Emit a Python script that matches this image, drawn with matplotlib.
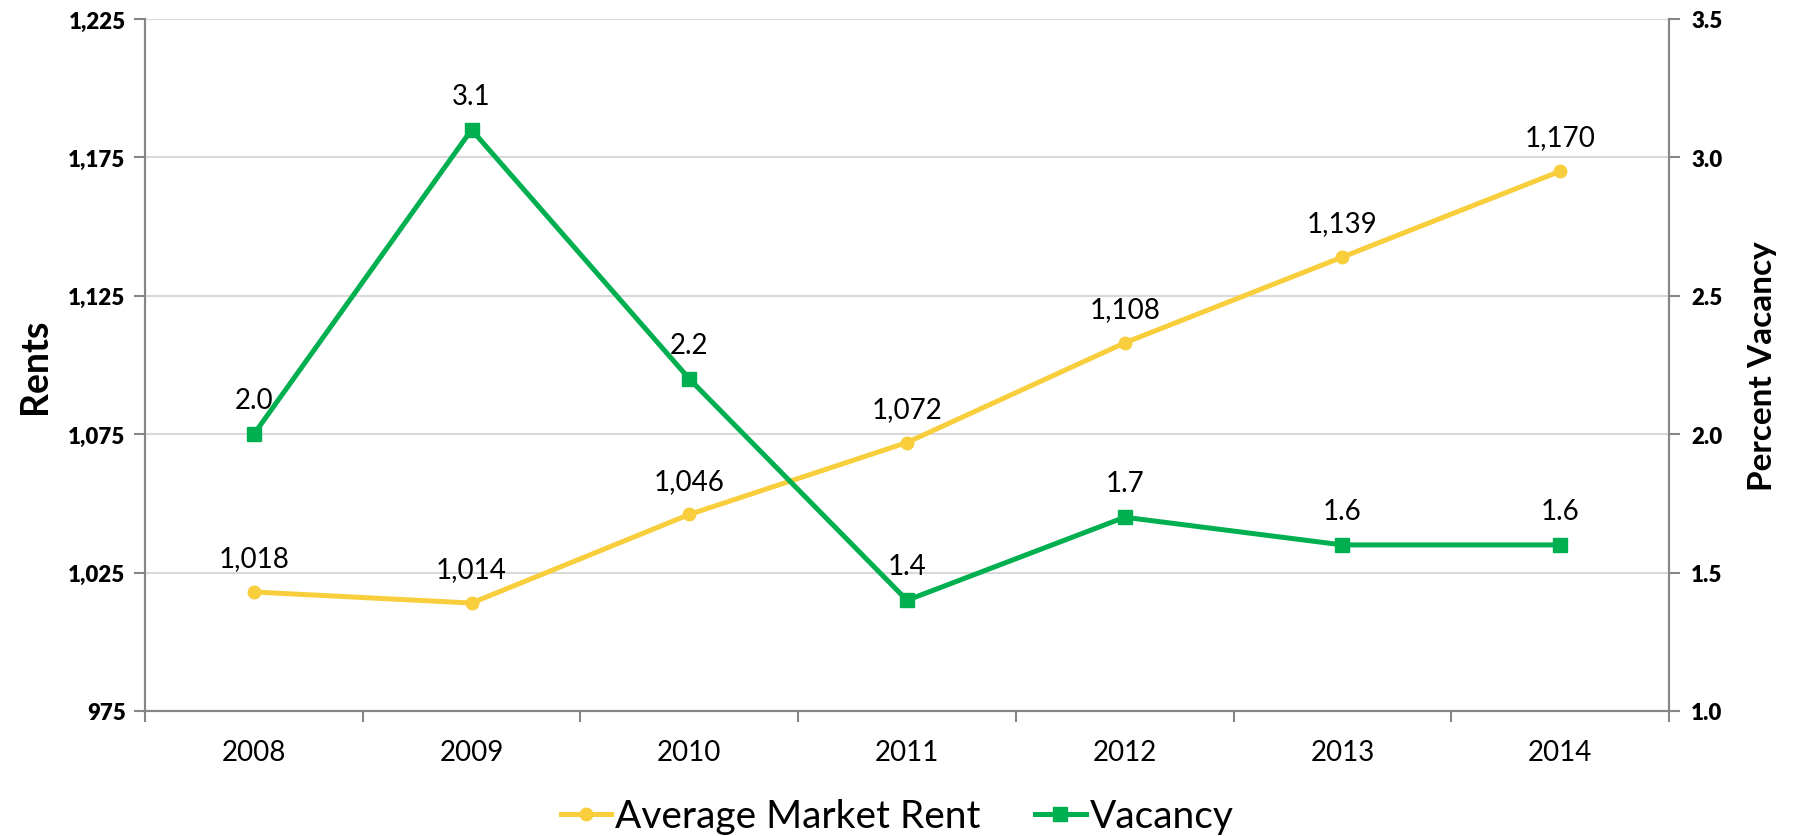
import matplotlib
matplotlib.use("Agg")
import matplotlib.pyplot as plt
from matplotlib.ticker import FixedLocator

plt.rcParams['font.family'] = ['Lato', 'DejaVu Sans']

years = ['2008', '2009', '2010', '2011', '2012', '2013', '2014']
rent = [1018, 1014, 1046, 1072, 1108, 1139, 1170]
vacancy = [2.0, 3.1, 2.2, 1.4, 1.7, 1.6, 1.6]
rent_ticks = [975, 1025, 1075, 1125, 1175, 1225]
vac_ticks = [1.0, 1.5, 2.0, 2.5, 3.0, 3.5]

YELLOW = '#F8CE3C'
GREEN = '#00B050'
AXIS = '#868686'
GRID = '#D9D9D9'

fig = plt.figure(figsize=(17.97, 8.37), dpi=100)
ax = fig.add_axes([145/1797, 1-712/837, (1669-145)/1797, (712-20)/837])
ax2 = ax.twinx()

x = list(range(len(years)))

l1, = ax.plot(x, rent, color=YELLOW, lw=3.6, marker='o', ms=9, zorder=3,
              label='Average Market Rent')
l2, = ax2.plot(x, vacancy, color=GREEN, lw=3.6, marker='s', ms=10, zorder=3,
               label='Vacancy')

ax.set_xlim(-0.5, len(years) - 0.5)
ax.set_ylim(rent_ticks[0], rent_ticks[-1])
ax2.set_ylim(vac_ticks[0], vac_ticks[-1])

for a in (ax, ax2):
    a.tick_params(axis='y', length=8, color=AXIS, width=1.5, direction='out')
    for s in a.spines.values():
        s.set_color(AXIS)
        s.set_linewidth(1.5)
    a.spines['top'].set_visible(False)
ax.tick_params(axis='y', pad=6)
ax2.tick_params(axis='y', pad=8)
ax.tick_params(axis='x', which='major', length=0, pad=20)
ax.tick_params(axis='x', which='minor', length=8, color=AXIS, width=1.5, direction='out')

ax.set_yticks(rent_ticks)
ax.set_yticklabels([f'{v:,}' for v in rent_ticks], fontweight='heavy', fontsize=16)
ax2.set_yticks(vac_ticks)
ax2.set_yticklabels([f'{v:.1f}' for v in vac_ticks], fontweight='heavy', fontsize=16)

ax.set_xticks(x)
ax.set_xticklabels(years, fontsize=20)
ax.xaxis.set_minor_locator(FixedLocator([i - 0.5 for i in range(len(years) + 1)]))

ax.grid(axis='y', color=GRID, lw=1.5, zorder=0)
ax.set_axisbelow(True)

ax.set_ylabel('Rents', fontsize=27, fontweight='bold', labelpad=12)
ax2.set_ylabel('Percent Vacancy', fontsize=24, fontweight='bold', labelpad=18)

for xi, v in zip(x, rent):
    ax.annotate(f'{v:,}', (xi, v), xytext=(0, 15), textcoords='offset points',
                ha='center', va='bottom', fontsize=20, color='black')
for xi, v in zip(x, vacancy):
    ax2.annotate(f'{v:.1f}', (xi, v), xytext=(0, 15), textcoords='offset points',
                 ha='center', va='bottom', fontsize=20, color='black')

fig.legend(handles=[l1, l2], loc='lower center', bbox_to_anchor=(897/1797, -0.04),
           ncol=2, frameon=False, fontsize=28, handlelength=1.3, handletextpad=0.1,
           columnspacing=1.4, markerscale=1.0)

fig.savefig('out.png', dpi=100)
